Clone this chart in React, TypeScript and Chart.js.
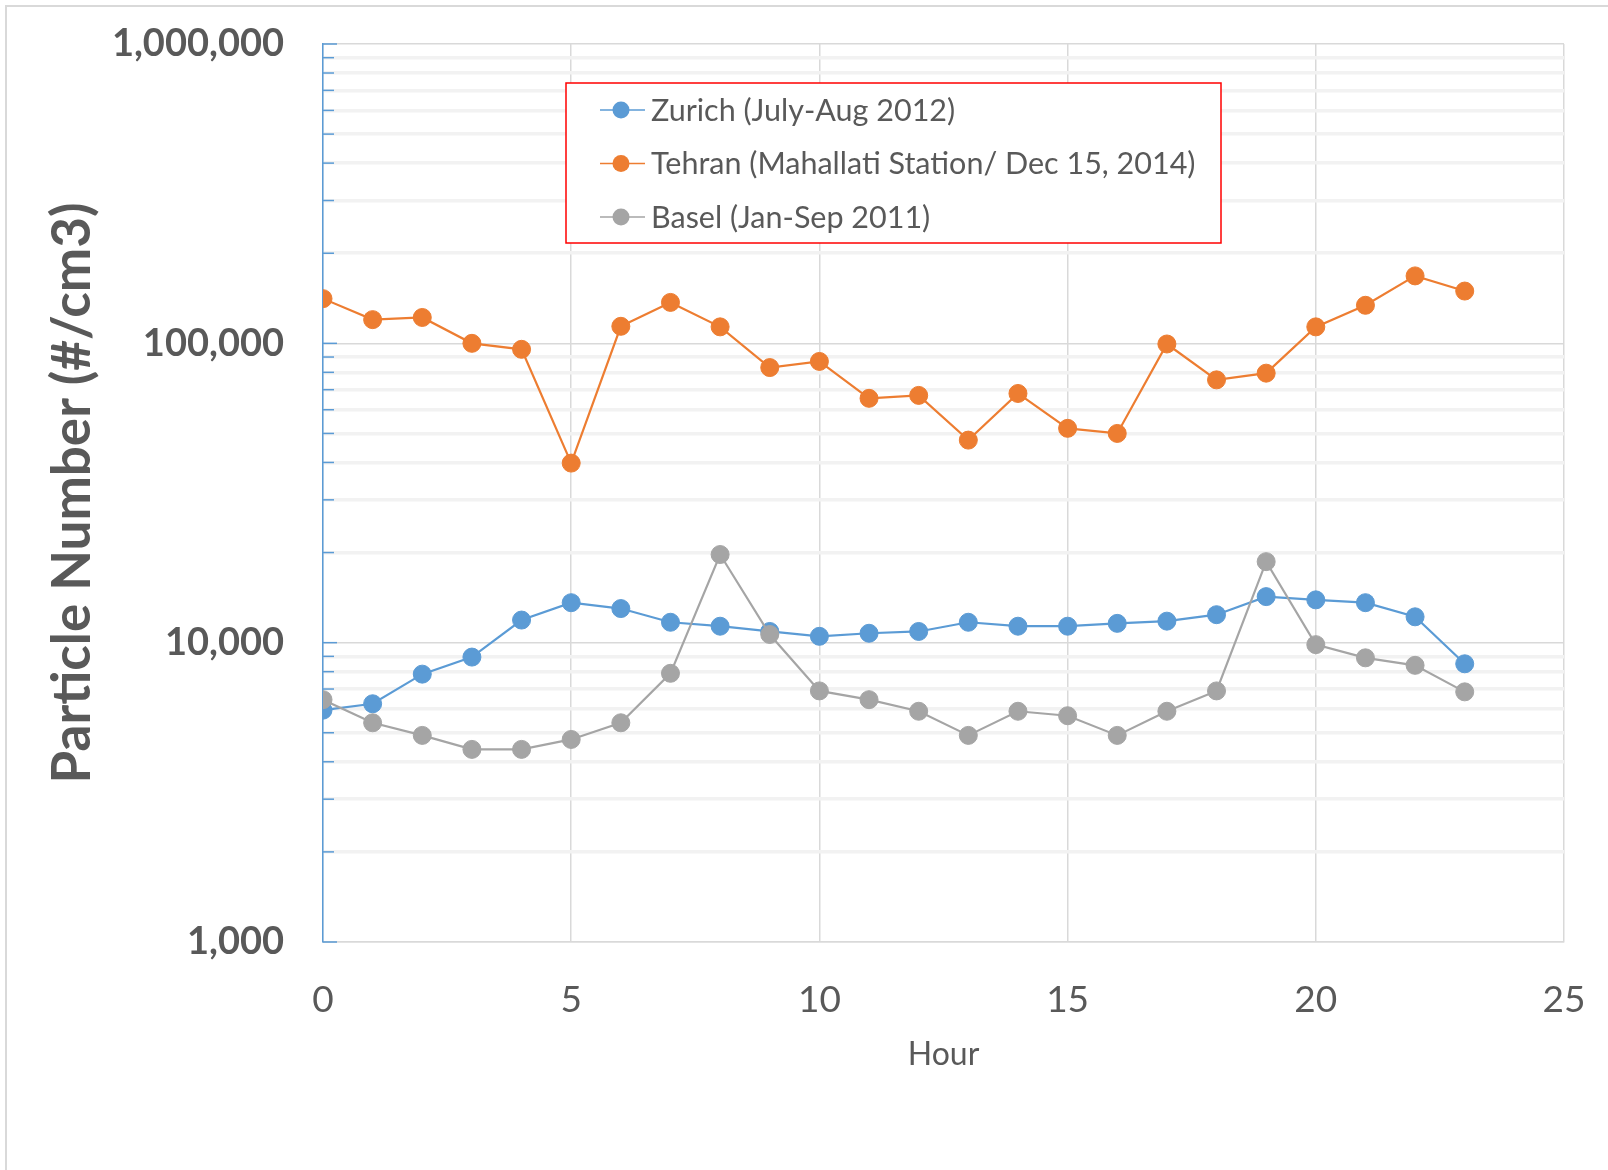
import React, { useEffect, useRef } from 'react';
import { Chart, registerables } from 'chart.js';

Chart.register(...registerables);

// ---- Data ----
const hours = [0, 1, 2, 3, 4, 5, 6, 7, 8, 9, 10, 11, 12, 13, 14, 15, 16, 17, 18, 19, 20, 21, 22, 23];
const zurich = [5950, 6250, 7850, 8950, 11900, 13600, 13000, 11700, 11350, 10900, 10500, 10750, 10900, 11700, 11350, 11350, 11600, 11800, 12400, 14250, 13900, 13600, 12200, 8500];
const tehran = [141000, 120000, 122000, 100000, 95500, 39800, 114000, 137000, 113500, 83000, 87000, 65500, 67000, 47500, 68000, 52000, 50000, 99500, 75500, 79500, 113500, 134000, 168000, 149500];
const basel = [6450, 5400, 4900, 4400, 4400, 4750, 5400, 7900, 19700, 10650, 6900, 6450, 5900, 4900, 5900, 5700, 4900, 5900, 6900, 18650, 9850, 8900, 8400, 6850];
const seriesLabels = ['Zurich (July-Aug 2012)', 'Tehran (Mahallati Station/ Dec 15, 2014)', 'Basel (Jan-Sep 2011)'];
const seriesColors = ['#5B9BD5', '#ED7D31', '#A5A5A5'];
const yMajorTicks = [1000, 10000, 100000, 1000000];
const yTickLabels = ['1,000', '10,000', '100,000', '1,000,000'];
const xTickValues = [0, 5, 10, 15, 20, 25];
const xTitle = 'Hour';
const yTitle = 'Particle Number (#/cm3)';

const FONT = 'Lato, "Open Sans", sans-serif';
const TEXT = '#595959';

const yAllTicks: number[] = [];
yMajorTicks.forEach((m, i) => {
  if (i === yMajorTicks.length - 1) { yAllTicks.push(m); return; }
  for (let k = 1; k <= 9; k++) yAllTicks.push(m * k);
});

const framePlugin = {
  id: 'frame',
  beforeDraw(chart: any) {
    const ctx = chart.ctx;
    ctx.save();
    ctx.fillStyle = '#ffffff';
    ctx.fillRect(0, 0, chart.width, chart.height);
    ctx.strokeStyle = '#d9d9d9';
    ctx.lineWidth = 2;
    ctx.beginPath();
    ctx.moveTo(6, chart.height);
    ctx.lineTo(6, 6);
    ctx.lineTo(chart.width, 6);
    ctx.stroke();
    ctx.restore();
  },
};

const innerTicksPlugin = {
  id: 'innerTicks',
  beforeDatasetsDraw(chart: any) {
    const ctx = chart.ctx;
    const ys = chart.scales.y;
    const left = chart.chartArea.left;
    ctx.save();
    ctx.strokeStyle = '#5B9BD5';
    ctx.lineWidth = 1.5;
    yAllTicks.forEach((v) => {
      const py = ys.getPixelForValue(v);
      const len = yMajorTicks.includes(v) ? 14 : 11;
      ctx.beginPath();
      ctx.moveTo(left, py);
      ctx.lineTo(left + len, py);
      ctx.stroke();
    });
    ctx.restore();
  },
};

const titlesPlugin = {
  id: 'titles',
  afterDraw(chart: any) {
    const ctx = chart.ctx;
    const area = chart.chartArea;
    ctx.save();
    ctx.fillStyle = TEXT;
    ctx.textAlign = 'center';
    ctx.textBaseline = 'alphabetic';
    ctx.font = `32px ${FONT}`;
    ctx.fillText(xTitle, (area.left + area.right) / 2, 1065);
    ctx.translate(90, 493);
    ctx.rotate(-Math.PI / 2);
    ctx.font = `bold 53px ${FONT}`;
    ctx.fillText(yTitle, 0, 0);
    ctx.restore();
  },
};

const legendPlugin = {
  id: 'boxLegend',
  afterDraw(chart: any) {
    const ctx = chart.ctx;
    ctx.save();
    ctx.fillStyle = '#ffffff';
    ctx.fillRect(566, 83, 655, 160);
    ctx.strokeStyle = '#FF0000';
    ctx.lineWidth = 1.5;
    ctx.strokeRect(566, 83, 655, 160);
    chart.data.datasets.forEach((ds: any, i: number) => {
      const y = 110 + i * 53.5;
      ctx.strokeStyle = ds.borderColor;
      ctx.lineWidth = 1.5;
      ctx.beginPath();
      ctx.moveTo(600, y);
      ctx.lineTo(645, y);
      ctx.stroke();
      ctx.fillStyle = ds.borderColor;
      ctx.beginPath();
      ctx.arc(621, y, 8.5, 0, Math.PI * 2);
      ctx.fill();
      ctx.fillStyle = TEXT;
      ctx.font = `30.5px ${FONT}`;
      ctx.textAlign = 'left';
      ctx.textBaseline = 'middle';
      ctx.fillText(ds.label, 651, y + 1);
    });
    ctx.restore();
  },
};

function makeDataset(label: string, values: number[], color: string, order: number) {
  return {
    label,
    data: hours.map((h, i) => ({ x: h, y: values[i] })),
    borderColor: color,
    backgroundColor: color,
    borderWidth: 2.2,
    pointRadius: 9,
    pointBorderWidth: 1,
    pointBackgroundColor: color,
    pointBorderColor: color,
    tension: 0,
    order,
  };
}

export default function App() {
  const ref = useRef<HTMLCanvasElement | null>(null);

  useEffect(() => {
    if (!ref.current) return;
    const chart = new Chart(ref.current, {
      type: 'line',
      data: {
        datasets: [
          makeDataset(seriesLabels[0], zurich, seriesColors[0], 2),
          makeDataset(seriesLabels[1], tehran, seriesColors[1], 1),
          makeDataset(seriesLabels[2], basel, seriesColors[2], 0),
        ],
      },
      options: {
        responsive: false,
        animation: false,
        devicePixelRatio: 1,
        layout: { padding: { left: 0, top: 44, right: 44, bottom: 0 } },
        plugins: { legend: { display: false }, tooltip: { enabled: false } },
        scales: {
          x: {
            type: 'linear',
            min: 0,
            max: 25,
            afterBuildTicks: (scale: any) => {
              scale.ticks = xTickValues.map((v) => ({ value: v }));
            },
            afterFit: (scale: any) => {
              scale.height = 228;
              scale.paddingLeft = 0;
              scale.paddingRight = 0;
            },
            ticks: {
              font: { family: FONT, size: 37 },
              color: TEXT,
              padding: 36,
              autoSkip: false,
              maxRotation: 0,
            },
            grid: { color: '#d9d9d9', lineWidth: 1.5, drawTicks: false },
            border: { color: '#d9d9d9', width: 1.5 },
          },
          y: {
            type: 'logarithmic',
            min: 1000,
            max: 1000000,
            afterBuildTicks: (scale: any) => {
              scale.ticks = yAllTicks.map((v) => ({ value: v, major: yMajorTicks.includes(v) }));
            },
            afterFit: (scale: any) => {
              scale.width = 323;
              scale.paddingTop = 0;
              scale.paddingBottom = 0;
            },
            ticks: {
              font: { family: FONT, size: 38, weight: 'bold' },
              color: TEXT,
              padding: 39,
              autoSkip: false,
              callback: (value: any) => {
                const idx = yMajorTicks.indexOf(Number(value));
                return idx >= 0 ? yTickLabels[idx] : '';
              },
            },
            grid: {
              drawTicks: false,
              color: (c: any) => (c.tick && yMajorTicks.includes(c.tick.value) ? '#d9d9d9' : '#f2f2f2'),
              lineWidth: (c: any) => (c.tick && yMajorTicks.includes(c.tick.value) ? 1.5 : 3.5),
            },
            border: { color: '#5B9BD5', width: 1.5 },
          },
        },
      } as any,
      plugins: [framePlugin, innerTicksPlugin, titlesPlugin, legendPlugin],
    });
    return () => chart.destroy();
  }, []);

  return (
    <div style={{ position: 'absolute', left: 0, top: 0, width: 1608, height: 1170 }}>
      <canvas ref={ref} width={1608} height={1170} style={{ display: 'block' }} />
    </div>
  );
}
